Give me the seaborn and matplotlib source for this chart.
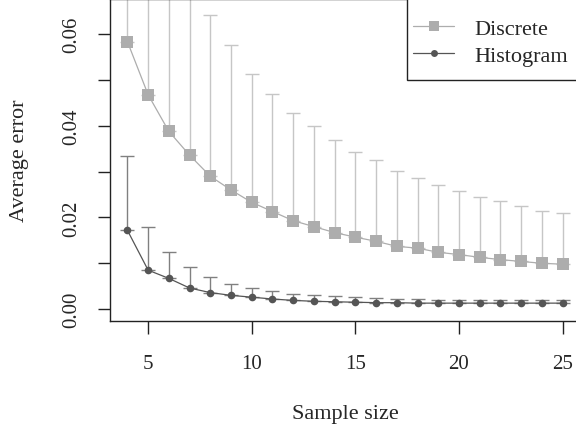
import numpy as np
import pandas as pd
import matplotlib
matplotlib.use("Agg")
import matplotlib.pyplot as plt
import seaborn as sns
from matplotlib.ticker import FuncFormatter, MultipleLocator
from matplotlib.lines import Line2D
from matplotlib.patches import Rectangle

# data
sample_size = [4, 5, 6, 7, 8, 9, 10, 11, 12, 13, 14, 15, 16, 17, 18, 19, 20, 21, 22, 23, 24, 25]
discrete_mean = [0.0584, 0.0468, 0.0388, 0.0336, 0.0290, 0.0260, 0.0233, 0.0213, 0.0193, 0.0180, 0.0167,
                 0.0157, 0.0148, 0.0137, 0.0133, 0.0124, 0.0119, 0.0113, 0.0108, 0.0104, 0.0100, 0.0098]
discrete_upper = [0.113, 0.097, 0.084, 0.074, 0.0642, 0.0576, 0.0514, 0.0469, 0.0429, 0.0399, 0.0369,
                  0.0343, 0.0325, 0.0301, 0.0287, 0.0271, 0.0258, 0.0245, 0.0236, 0.0224, 0.0215, 0.0209]
hist_mean = [0.0172, 0.0085, 0.0067, 0.0046, 0.0036, 0.0030, 0.0026, 0.0022, 0.0019, 0.0017, 0.0016,
             0.0015, 0.0014, 0.0014, 0.0013, 0.0013, 0.0013, 0.0013, 0.0013, 0.0013, 0.0013, 0.0013]
hist_upper = [0.0335, 0.0180, 0.0125, 0.0091, 0.0070, 0.0055, 0.0047, 0.0039, 0.0033, 0.0030, 0.0028,
              0.0026, 0.0024, 0.0022, 0.0021, 0.0020, 0.0020, 0.0020, 0.0019, 0.0019, 0.0019, 0.0019]

sns.set_style("ticks")
plt.rcParams['font.family'] = ['Liberation Serif', 'DejaVu Serif']

df = pd.DataFrame({
    'size': sample_size * 2,
    'error': discrete_mean + hist_mean,
    'method': ['Discrete'] * len(sample_size) + ['Histogram'] * len(sample_size),
})

fig = plt.figure(figsize=(5.76, 4.35), dpi=100)
ax = fig.add_axes([110 / 576, 113 / 435, 470 / 576, 322 / 435 - 0.001])

disc_col = '#adadad'
hist_col = '#555555'

# one-sided error bars (upper only)
d_mean = np.array(discrete_mean)
h_mean = np.array(hist_mean)
ax.errorbar(sample_size, d_mean, yerr=[np.zeros_like(d_mean), np.array(discrete_upper) - d_mean],
            fmt='none', ecolor='#c6c6c6', elinewidth=1.0, capsize=5, capthick=1.0, zorder=1)
ax.errorbar(sample_size, h_mean, yerr=[np.zeros_like(h_mean), np.array(hist_upper) - h_mean],
            fmt='none', ecolor='#808080', elinewidth=1.0, capsize=5, capthick=1.0, zorder=1)

sns.lineplot(data=df, x='size', y='error', hue='method',
             palette={'Discrete': disc_col, 'Histogram': hist_col},
             linewidth=0.9, legend=False, ax=ax, zorder=2)
ax.plot(sample_size, discrete_mean, linestyle='none', marker='s', markersize=8.5,
        color=disc_col, markeredgewidth=0, zorder=3)
ax.plot(sample_size, hist_mean, linestyle='none', marker='o', markersize=5.5,
        color=hist_col, markeredgewidth=0, zorder=3)

ax.set_xlim(3.16, 25.84)
ax.set_ylim(-0.0026, 0.0676)
ax.xaxis.set_major_locator(MultipleLocator(5))
ax.yaxis.set_major_locator(MultipleLocator(0.01))
ax.yaxis.set_major_formatter(FuncFormatter(
    lambda v, p: f'{v:.2f}' if round(v * 100) % 2 == 0 else ''))

for s in ax.spines.values():
    s.set_color('#222222')
    s.set_linewidth(1.0)
ax.tick_params(axis='both', direction='out', length=9, width=1.0, color='#222222',
               labelsize=15)
ax.tick_params(axis='x', pad=15)
ax.tick_params(axis='y', pad=12, labelrotation=90)
for lab in ax.get_yticklabels():
    lab.set_va('center')

ax.set_xlabel('Sample size', fontsize=16)
ax.set_ylabel('Average error', fontsize=16)
ax.xaxis.set_label_coords(0.5, -0.258)
ax.yaxis.set_label_coords(-0.172, 0.5)

# legend box drawn as in the reference (flush with top right corner)
fig.patches.append(Rectangle((407 / 576, 1 - 81 / 435), 172 / 576, 82 / 435,
                             transform=fig.transFigure, facecolor='white',
                             edgecolor='#222222', linewidth=1.0, zorder=5))
handles = [
    Line2D([0], [0], color=disc_col, marker='s', markersize=7, markeredgewidth=0, linewidth=0.9),
    Line2D([0], [0], color=hist_col, marker='o', markersize=5, markeredgewidth=0, linewidth=0.9),
]
leg = fig.legend(handles, ['Discrete', 'Histogram'], loc='upper left',
                 bbox_to_anchor=(413 / 576, 1 - 19 / 435), fontsize=16, frameon=False,
                 handlelength=1.85, handletextpad=0.9, borderpad=0, labelspacing=0.3,
                 borderaxespad=0)
leg.set_zorder(6)

fig.savefig('out.png', dpi=100)
